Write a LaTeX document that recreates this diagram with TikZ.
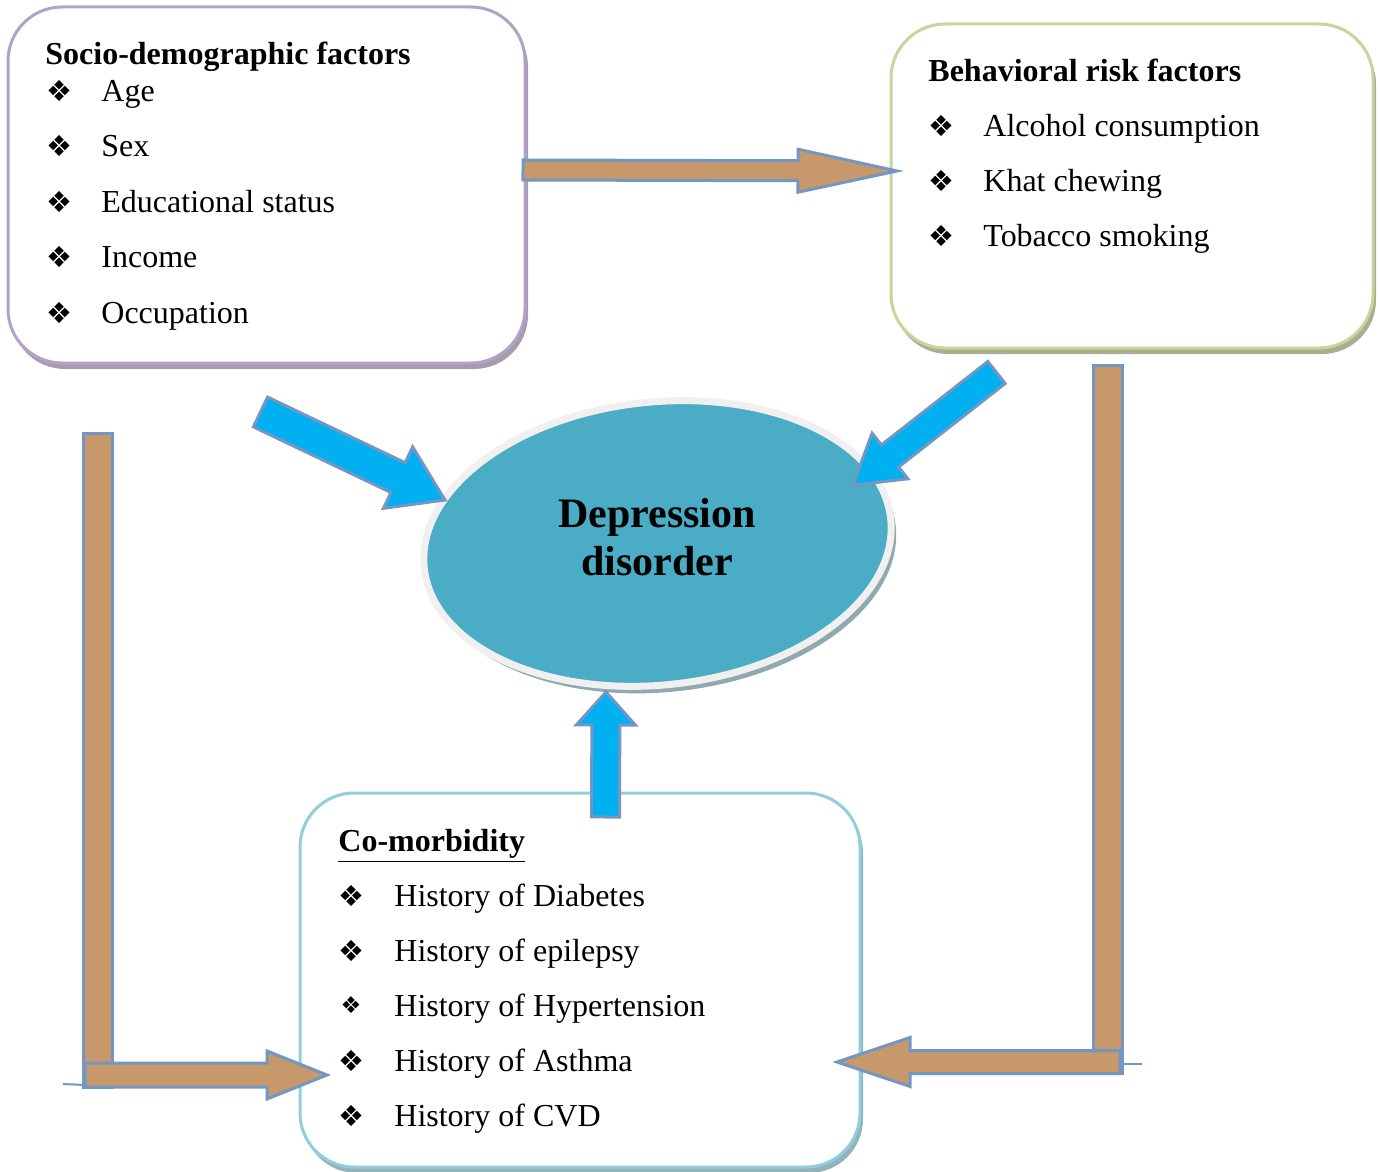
\documentclass[tikz,border=0pt]{standalone}
\usepackage{fontspec}
\setmainfont{Liberation Serif}
\newfontfamily\dingfont{DejaVu Sans}
\usetikzlibrary{calc, fit, shapes.geometric, shadows}

\definecolor{socline}{HTML}{B2A2C7}
\definecolor{socshade}{HTML}{A39DAD}
\definecolor{behline}{HTML}{C3D69B}
\definecolor{behshade}{HTML}{A9AD92}
\definecolor{comline}{HTML}{92CDDC}
\definecolor{comshade}{HTML}{93B3BB}
\definecolor{arrowblue}{HTML}{00B0F0}
\definecolor{arrowedge}{HTML}{7397C4}
\definecolor{cork}{HTML}{C6986A}
\definecolor{depteal}{HTML}{4BACC6}
\definecolor{deprim}{HTML}{F0F0F0}
\definecolor{depshade}{HTML}{90A9AE}

\newcommand{\bodysize}{\fontsize{16}{19}\selectfont}
\newcommand{\dingbul}{❖}

% block arrow: [style]{tail}{tip}{half shaft}{half head}{head length}
\newcommand{\blockarrow}[6][]{%
  \coordinate (neck) at ($(#3)!#6!(#2)$);
  \draw[#1] ($(#2)!#4!90:(#3)$) -- ($(neck)!#4!90:(#3)$) -- ($(neck)!#5!90:(#3)$)
    -- (#3) -- ($(neck)!#5!-90:(#3)$) -- ($(neck)!#4!-90:(#3)$) -- ($(#2)!#4!-90:(#3)$) -- cycle;
}

\begin{document}
\begin{tikzpicture}[
    x=0.5pt, y=-0.5pt,
    font=\bodysize,
    factorbox/.style 2 args={draw=#1, line width=1.5pt, rounded corners=27pt, fill=white,
                             inner sep=0pt,
                             drop shadow={shadow xshift=1.5pt, shadow yshift=-3pt, fill=#2, opacity=1}},
    head/.style={font=\bodysize\bfseries, anchor=base west, inner sep=0pt},
    item/.style={anchor=base west, inner sep=0pt},
    bul/.style={font=\dingfont\fontsize{14.5}{14.5}\selectfont, inner sep=0pt},
    bluearr/.style={fill=arrowblue, draw=arrowedge, line width=1.5pt},
    corkarr/.style={fill=cork, draw=arrowedge, line width=1.5pt},
    edgeline/.style={draw=arrowedge, line width=1pt}
  ]
  \useasboundingbox (0,0) rectangle (1378,1172);

  % boxes
  \node[factorbox={socline}{socshade}, fit={(8,7) (525,363)}] (socio) {};
  \node[factorbox={behline}{behshade}, fit={(891,24) (1373,348)}] (behav) {};
  \node[factorbox={comline}{comshade}, fit={(300,793) (860,1167)}] (comorb) {};

  % socio-demographic list
  \node[head] (sochead) at (45,64.5) {Socio-demographic factors};
  \foreach \txt [count=\i] in {Age, Sex, Educational status, Income, Occupation} {
    \node[bul] at (59,101.5+55.5*\i-55.5-11) {\dingbul};
    \node[item] at (101,101.5+55.5*\i-55.5) {\txt};
  }

  % behavioral list
  \node[head] (behhead) at (928,81.5) {Behavioral risk factors};
  \foreach \txt [count=\i] in {Alcohol consumption, Khat chewing, Tobacco smoking} {
    \node[bul] at (941,136.5+55*\i-55-11) {\dingbul};
    \node[item] at (983,136.5+55*\i-55) {\txt};
  }

  % co-morbidity list
  \node[head] (comhead) at (338,851.5) {\underline{Co-morbidity}};
  \foreach \s/\txt [count=\i] in {1/History of Diabetes, 1/History of epilepsy,
      0.8/History of Hypertension, 1/History of Asthma, 1/History of CVD} {
    \node[bul, scale=\s] at (351,906.5+55*\i-55-11) {\dingbul};
    \node[item] at (394,906.5+55*\i-55) {\txt};
  }

  % outcome
  \node[ellipse, minimum width=234.5pt, minimum height=141.5pt, rotate=6,
        fill=depteal, draw=deprim, line width=3.5pt,
        drop shadow={shadow xshift=2.5pt, shadow yshift=-3.5pt, fill=depshade, opacity=1}]
        (depr) at (657.5,543.5) {};
  \node[font=\fontsize{21}{24}\selectfont\bfseries, align=center] (deplabel) at (657,537.5)
        {Depression\\disorder};

  % connector end points
  \coordinate (socTail) at (260.5,412);  \coordinate (socTip) at (445,500);
  \coordinate (behTail) at (996.5,372.5); \coordinate (behTip) at (853,485);
  \coordinate (comTail) at (605.5,817);  \coordinate (comTip) at (606,692);
  \coordinate (linkTail) at (523,170);   \coordinate (linkTip) at (897,171);
  \coordinate (leftTail) at (85,1075);   \coordinate (leftTip) at (327,1075);
  \coordinate (rightTail) at (1120,1062); \coordinate (rightTip) at (837,1062);

  % cork arrows
  \blockarrow[corkarr]{linkTail}{linkTip}{5pt}{10.75pt}{49.5pt}
  \draw[corkarr] (83,433) rectangle (112,1087);
  \draw[edgeline] (63,1084) -- (85,1085);
  \blockarrow[corkarr]{leftTail}{leftTip}{6pt}{12pt}{30pt}
  \draw[corkarr] (1093,365) rectangle (1122,1073);
  \draw[edgeline] (1118,1064) -- (1142,1064);
  \blockarrow[corkarr]{rightTail}{rightTip}{5.75pt}{12.25pt}{36.5pt}

  % blue arrows into the outcome
  \blockarrow[bluearr]{socTail}{socTip}{8.25pt}{17pt}{26pt}
  \blockarrow[bluearr]{behTail}{behTip}{7pt}{14.5pt}{23.5pt}
  \blockarrow[bluearr]{comTail}{comTip}{7pt}{14.75pt}{16.5pt}

\end{tikzpicture}
\end{document}
